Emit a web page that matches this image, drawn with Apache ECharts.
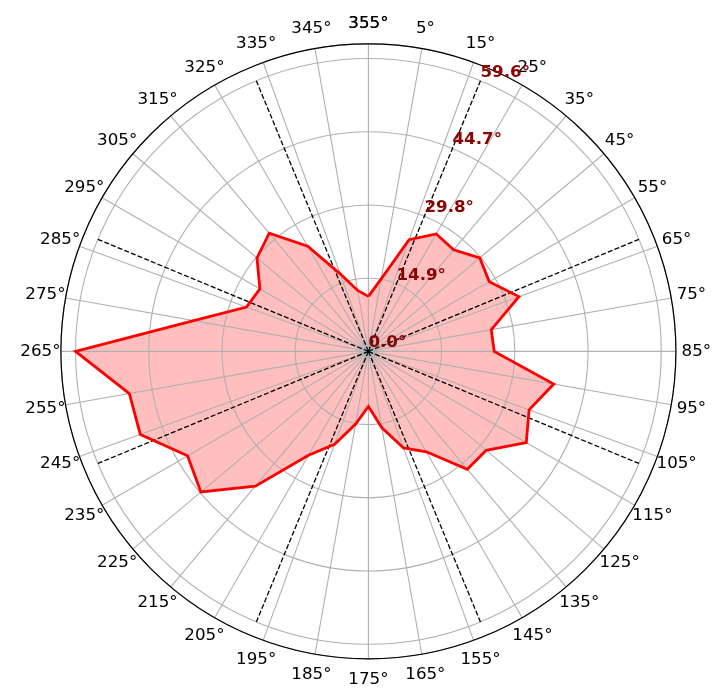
<!DOCTYPE html>
<html>
<head>
<meta charset="utf-8">
<script src="https://cdn.jsdelivr.net/npm/echarts@6/dist/echarts.min.js"></script>
<style>
  html, body { margin: 0; padding: 0; background: #fff; }
  #chart { width: 726px; height: 698px; }
</style>
</head>
<body>
<div id="chart"></div>
<script>
// spoke angles (deg, clockwise from north) and the value read at each spoke
const angles = [0, 10, 20, 30, 40, 50, 60, 70, 80, 90, 100, 110,
  120, 130, 140, 150, 160, 170, 180, 190, 200, 210, 220, 230,
  240, 250, 260, 270, 280, 290, 300, 310, 320, 330, 340, 350];
const values = [11.2, 15.0, 24.2, 27.6, 27.0, 29.6, 28.4, 32.6, 25.4, 25.6, 38.3, 34.8,
  37.1, 31.3, 31.3, 23.6, 20.9, 15.8, 11.2, 15.0, 20.1, 24.4, 35.8, 44.5,
  42.5, 49.4, 49.4, 59.6, 36.1, 26.4, 25.5, 29.6, 31.4, 24.7, 16.8, 12.6];
// the spoke labels are shifted by 5 degrees in the original
const angleLabels = ['355°', '5°', '15°', '25°', '35°', '45°', '55°', '65°', '75°', '85°', '95°', '105°',
  '115°', '125°', '135°', '145°', '155°', '165°', '175°', '185°', '195°', '205°', '215°', '225°',
  '235°', '245°', '255°', '265°', '275°', '285°', '295°', '305°', '315°', '325°', '335°', '345°'];
// radial rings and the dashed sector edges
const ringStep = 14.9;
const ringTop = 59.6;
const rMax = 62.58;
const sectorEdges = [22.5, 67.5, 112.5, 157.5, 202.5, 247.5, 292.5, 337.5];

const chart = echarts.init(document.getElementById('chart'));

// close the polygon by repeating the first point at 360
const closed = angles.map((a, i) => [values[i], a]);
closed.push([values[0], 360]);

const center = [368.4, 351.4];
const radius = 307.5;
const font = 'DejaVu Sans';

const dashed = sectorEdges.map(a => ({
  type: 'line',
  coordinateSystem: 'polar',
  polarIndex: 0,
  data: [[0, a], [ringTop, a]],
  symbol: 'none',
  silent: true,
  z: 4,
  lineStyle: { color: '#000', width: 1.3, type: [5, 2.2] }
}));

chart.setOption({
  animation: false,
  backgroundColor: '#fff',
  polar: [
    { center: center, radius: radius },
    { center: center, radius: radius }
  ],
  angleAxis: [
    {
      polarIndex: 0,
      type: 'value',
      min: 0,
      max: 360,
      interval: 10,
      startAngle: 90,
      clockwise: true,
      z: 3,
      axisLine: { lineStyle: { color: '#000', width: 1.2 } },
      axisTick: { show: false },
      axisLabel: { show: false },
      splitLine: { lineStyle: { color: '#b0b0b0', width: 1.1 } }
    },
    {
      polarIndex: 1,
      type: 'value',
      min: 0,
      max: 360,
      startAngle: 67.5,
      clockwise: true,
      show: false
    }
  ],
  radiusAxis: [
    {
      polarIndex: 0,
      type: 'value',
      min: 0,
      max: rMax,
      interval: ringStep,
      z: 3,
      axisLine: { show: false },
      axisTick: { show: false },
      axisLabel: { show: false },
      splitLine: { lineStyle: { color: '#b0b0b0', width: 1.1 } }
    },
    {
      polarIndex: 1,
      type: 'value',
      min: 0,
      max: rMax,
      interval: ringStep,
      z: 6,
      axisLine: { show: false },
      axisTick: { show: false },
      splitLine: { show: false },
      axisLabel: {
        margin: 0,
        showMaxLabel: false,
        color: '#8b0000',
        fontWeight: 'bold',
        fontSize: 16.7,
        fontFamily: font,
        align: 'left',
        verticalAlign: 'bottom',
        formatter: v => v.toFixed(1) + '°'
      }
    }
  ],
  series: [
    {
      type: 'line',
      coordinateSystem: 'polar',
      polarIndex: 0,
      data: closed,
      symbol: 'none',
      silent: true,
      z: 2,
      lineStyle: { width: 0 },
      areaStyle: { color: 'rgba(255,0,0,0.25)', opacity: 1, origin: 'start' }
    },
    ...dashed,
    {
      type: 'line',
      coordinateSystem: 'polar',
      polarIndex: 0,
      data: closed,
      symbol: 'none',
      silent: true,
      z: 5,
      lineStyle: { color: '#ff0000', width: 2.8, join: 'miter' }
    }
  ]
});

// spoke labels centred a fixed distance outside the rim (matplotlib style)
const labelR = rMax * (radius + 20.5) / radius;
const spokeLabels = angles.concat([360]).map((a, i) => {
  const p = chart.convertToPixel({ seriesIndex: 0 }, [labelR, a]);
  return {
    type: 'text',
    x: p[0],
    y: p[1],
    silent: true,
    style: {
      text: angleLabels[i % angleLabels.length],
      fill: '#000',
      font: '16.7px "DejaVu Sans"',
      align: 'center',
      verticalAlign: 'middle',
      textAlign: 'center',
      textVerticalAlign: 'middle'
    }
  };
});
chart.setOption({ graphic: spokeLabels });
</script>
</body>
</html>
